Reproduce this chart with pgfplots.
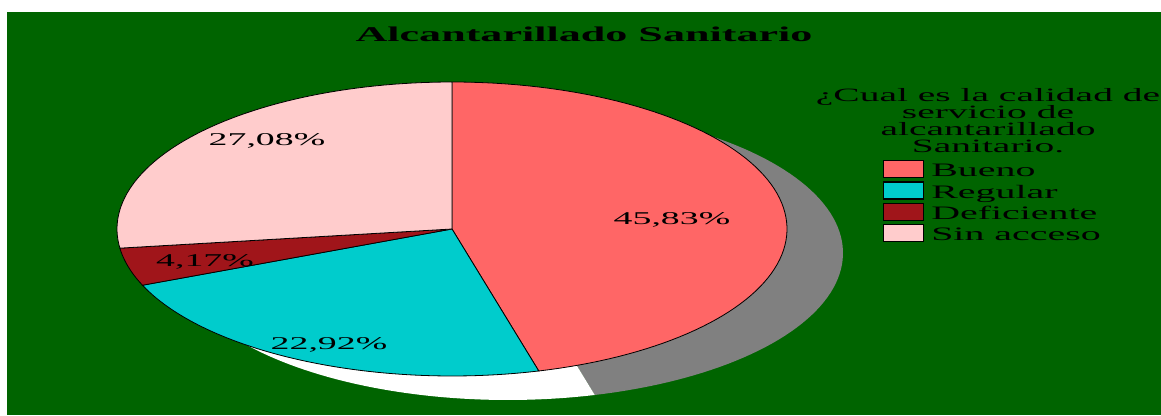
\documentclass[border=0pt]{standalone}
\usepackage{pgfplots}
\pgfplotsset{compat=1.18}
\usepackage{pgfplotstable}
\usepackage{fontspec}
\setmainfont{Liberation Serif}
\newfontfamily\wf[FakeStretch=2.1]{Liberation Serif}
\definecolor{bg}{HTML}{006400}
\definecolor{bueno}{HTML}{FF6666}
\definecolor{regular}{HTML}{00CCCC}
\definecolor{deficiente}{HTML}{A0151A}
\definecolor{sinacceso}{HTML}{FFCCCC}
\definecolor{sombra}{HTML}{808080}

\pgfplotstableread{
label value
Bueno 45.83
Regular 22.92
Deficiente 4.17
Sin_acceso 27.08
}\piedata
\pgfplotstablegetelem{0}{value}\of\piedata \let\vA\pgfplotsretval%
\pgfplotstablegetelem{1}{value}\of\piedata \let\vB\pgfplotsretval%
\pgfplotstablegetelem{2}{value}\of\piedata \let\vC\pgfplotsretval%
\pgfplotstablegetelem{3}{value}\of\piedata \let\vD\pgfplotsretval%
\pgfmathsetmacro\aA{90}%
\pgfmathsetmacro\aB{\aA-3.6*\vA}%
\pgfmathsetmacro\aC{\aB-3.6*\vB}%
\pgfmathsetmacro\aD{\aC-3.6*\vC}%
\pgfmathsetmacro\aE{\aD-3.6*\vD}%

\begin{document}%
\begin{tikzpicture}
\begin{axis}[
  at={(0pt,0pt)}, anchor=south west,
  width=1161pt, height=415pt, scale only axis,
  xmin=0, xmax=1161, ymin=0, ymax=415,
  hide axis,
  legend style={at={(0.7606,0.6145)}, anchor=north west, draw=none, fill=none,
    inner sep=0pt, row sep=-0.3pt, font=\wf\fontsize{19}{19}\selectfont,
    nodes={inner sep=0pt, text depth=5pt},
    cells={anchor=base west},
    /tikz/every odd column/.append style={column sep=7pt}},
  legend image code/.code={\draw[line width=1.2pt,draw=black] (0.6pt,-1pt) rectangle (40.4pt,16pt);},
]
\fill[white] (axis cs:0,0) rectangle (axis cs:1161,415);
\fill[bg] (axis cs:7,0) rectangle (axis cs:1161,403);
% shadow
\addplot[forget plot, fill=sombra, draw=none, mark=none, domain=\aB:\aA, samples=90, variable=\t]
  ({508+335*cos(\t)}, {162+147*sin(\t)}) -- (axis cs:508,162) -- cycle;
\addplot[forget plot, fill=white, draw=none, mark=none, domain=\aE:\aB, samples=120, variable=\t]
  ({508+335*cos(\t)}, {162+147*sin(\t)}) -- (axis cs:508,162) -- cycle;
% sectors
\addplot[fill=bueno, draw=black, line width=0.8pt, mark=none, domain=\aB:\aA, samples=90, variable=\t]
  ({452+335*cos(\t)}, {186+147*sin(\t)}) -- (axis cs:452,186) -- cycle;
\addlegendentry{Bueno}
\addplot[fill=regular, draw=black, line width=0.8pt, mark=none, domain=\aC:\aB, samples=60, variable=\t]
  ({452+335*cos(\t)}, {186+147*sin(\t)}) -- (axis cs:452,186) -- cycle;
\addlegendentry{Regular}
\addplot[fill=deficiente, draw=black, line width=0.8pt, mark=none, domain=\aD:\aC, samples=20, variable=\t]
  ({452+335*cos(\t)}, {186+147*sin(\t)}) -- (axis cs:452,186) -- cycle;
\addlegendentry{Deficiente}
\addplot[fill=sinacceso, draw=black, line width=0.8pt, mark=none, domain=\aE:\aD, samples=60, variable=\t]
  ({452+335*cos(\t)}, {186+147*sin(\t)}) -- (axis cs:452,186) -- cycle;
\addlegendentry{Sin acceso}
% labels
\node[font=\wf\fontsize{18}{18}\selectfont, anchor=base] at (axis cs:672,190) {45,83\%};
\node[font=\wf\fontsize{18}{18}\selectfont, anchor=base] at (axis cs:329,66) {22,92\%};
\node[font=\wf\fontsize{18}{18}\selectfont, anchor=base] at (axis cs:205,148) {4,17\%};
\node[font=\wf\fontsize{18}{18}\selectfont, anchor=base] at (axis cs:267,269) {27,08\%};
% title
\node[font=\wf\bfseries\fontsize{21}{21}\selectfont, anchor=base] at (axis cs:584,373) {Alcantarillado Sanitario};
% legend title
\node[font=\wf\fontsize{18.8}{18.8}\selectfont, anchor=base] at (axis cs:988,313) {¿Cual es la calidad de};
\node[font=\wf\fontsize{18.8}{18.8}\selectfont, anchor=base] at (axis cs:988,296) {servicio de};
\node[font=\wf\fontsize{18.8}{18.8}\selectfont, anchor=base] at (axis cs:988,279) {alcantarillado};
\node[font=\wf\fontsize{18.8}{18.8}\selectfont, anchor=base] at (axis cs:988,262) {Sanitario.};
\end{axis}
\pgfresetboundingbox
\useasboundingbox (0pt,0pt) rectangle (1161pt,415pt);
\end{tikzpicture}%
\end{document}
